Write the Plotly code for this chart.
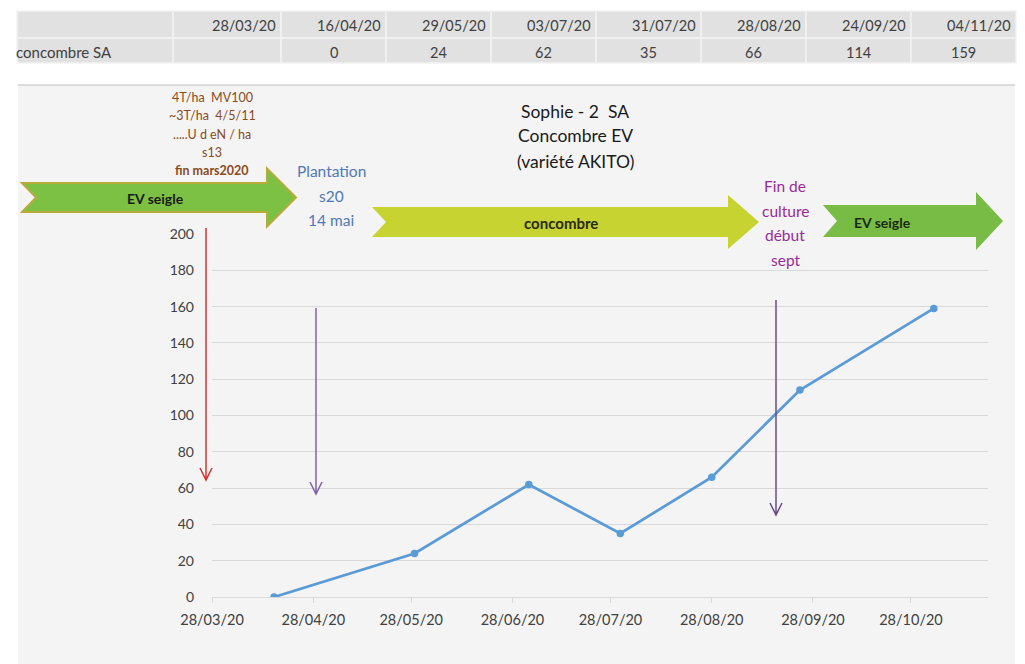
import plotly.graph_objects as go

# ---------------- data ----------------
table_dates = ["28/03/20", "16/04/20", "29/05/20", "03/07/20", "31/07/20", "28/08/20", "24/09/20", "04/11/20"]
table_values = [None, 0, 24, 62, 35, 66, 114, 159]
series_name = "concombre SA"
meas_dates = ["2020-04-16", "2020-05-29", "2020-07-03", "2020-07-31", "2020-08-28", "2020-09-24", "2020-11-04"]
meas_values = [0, 24, 62, 35, 66, 114, 159]
x_tick_vals = ["2020-03-28", "2020-04-28", "2020-05-28", "2020-06-28", "2020-07-28",
               "2020-08-28", "2020-09-28", "2020-10-28"]
x_tick_text = ["28/03/20", "28/04/20", "28/05/20", "28/06/20", "28/07/20",
               "28/08/20", "28/09/20", "28/10/20"]

title_lines = ["Sophie - 2  SA", "Concombre EV", "(variété AKITO)"]
note_left = ["4T/ha  MV100", "~3T/ha  4/5/11", ".....U d eN / ha", "s13", "fin mars2020"]
note_plant = ["Plantation", "s20", "14 mai"]
note_end = ["Fin de", "culture", "début", "sept"]

# ---------------- geometry helpers (page pixel coords) ----------------
OFF = 8  # body margin of the html page
PW, PH = 1025, 664
W, H = PW - OFF, PH - OFF
L, R, T, B = 212, 988, 234, 597
def px(x):
    return (x - L) / (R - L)
def py(y):
    return (B - y) / (B - T)

FONT = "Lato, 'Open Sans', sans-serif"

fig = go.Figure()
fig.add_trace(go.Scatter(
    x=meas_dates, y=meas_values, mode="lines+markers",
    line=dict(color="#5b9bd5", width=2.75),
    marker=dict(color="#5b9bd5", size=7.5),
    name=series_name, showlegend=False, hoverinfo="x+y",
))

shapes = []
annotations = []

def ann(x, y, text, size, color, xanchor="center"):
    annotations.append(dict(xref="paper", yref="paper", x=px(x), y=py(y), text=text,
                            showarrow=False, xanchor=xanchor, yanchor="middle",
                            font=dict(family=FONT, size=size, color=color)))

# chart area background
shapes.append(dict(type="rect", xref="paper", yref="paper", layer="below",
                   x0=px(18), x1=px(1015), y0=py(85), y1=py(680),
                   fillcolor="#f4f4f4", line=dict(width=0)))
shapes.append(dict(type="line", xref="paper", yref="paper", layer="below",
                   x0=px(18), x1=px(1015), y0=py(85), y1=py(85),
                   line=dict(color="#d2d2d2", width=1.5)))

# table
col_edges = [17, 173, 281, 386, 491, 596, 701, 806, 911, 1016]
row_edges = [11, 38, 63]
for r in range(2):
    for c in range(len(col_edges) - 1):
        shapes.append(dict(type="rect", xref="paper", yref="paper", layer="below",
                           x0=px(col_edges[c]), x1=px(col_edges[c + 1]),
                           y0=py(row_edges[r]), y1=py(row_edges[r + 1]),
                           fillcolor="#e1e1e1", line=dict(color="#f2f2f2", width=1.5)))

for i, d in enumerate(table_dates):
    right = col_edges[i + 2]
    ann(right - 3, 25, d, 14.5, "#404040", xanchor="right")
    v = table_values[i]
    if v is not None:
        ann((col_edges[i + 1] + right) / 2, 52, str(v), 14.5, "#404040")
ann(14, 52, series_name, 15, "#404040", xanchor="left")

# block arrows
def block_arrow(x0, x1, xh, yc, bh, hh, notch, fill, line=None):
    pts = [(x0, yc - bh), (xh, yc - bh), (xh, yc - hh), (x1, yc), (xh, yc + hh),
           (xh, yc + bh), (x0, yc + bh), (x0 + notch, yc)]
    path = "M " + " L ".join(f"{px(a):.5f},{py(b):.5f}" for a, b in pts) + " Z"
    shapes.append(dict(type="path", xref="paper", yref="paper", layer="below", path=path,
                       fillcolor=fill,
                       line=line if line else dict(width=0)))

block_arrow(22, 296, 267, 197.5, 14.5, 29, 14, "#7cc143", dict(color="#b8ab3c", width=2))
block_arrow(372, 759, 728, 222, 15, 27, 14, "#c6d331")
block_arrow(823, 1003, 976, 221, 16, 29, 14, "#78bb45")

ann(155, 198, "<b>EV seigle</b>", 14, "#1a1a1a")
ann(561, 223, "<b>concombre</b>", 15, "#2a2a10")
ann(882, 222, "<b>EV seigle</b>", 14, "#1a2a10")

# title
for i, t in enumerate(title_lines):
    ann(575, 111 + 25 * i, t, 17.5, "#1a1a1a")

# left brown note
for i, t in enumerate(note_left):
    ann(212, 97 + 18.5 * i, f"<b>{t}</b>" if i == 4 else t, 12.5, "#8a4a1c")

# plantation note
for i, t in enumerate(note_plant):
    ann(331, 171 + 24.5 * i, t, 15.5, "#4f78b8")

# end of culture note
for i, t in enumerate(note_end):
    ann(785, 186 + 24.5 * i, t, 15.5, "#9a2a9a")

# vertical arrows with open V heads
def vert_arrow(x, y0, y1, color, w=1.5):
    path = (f"M {px(x):.5f},{py(y0):.5f} L {px(x):.5f},{py(y1):.5f} "
            f"M {px(x - 6):.5f},{py(y1 - 12):.5f} L {px(x):.5f},{py(y1):.5f} "
            f"L {px(x + 6):.5f},{py(y1 - 12):.5f}")
    shapes.append(dict(type="path", xref="paper", yref="paper", layer="above", path=path,
                       line=dict(color=color, width=w)))

vert_arrow(206, 228, 480, "#d8322e")
vert_arrow(316, 308, 494, "#8063a8")
vert_arrow(776, 300, 515, "#6c4c88")

fig.update_layout(
    width=W, height=H,
    margin=dict(l=L - OFF, r=PW - R, t=T - OFF, b=PH - B),
    paper_bgcolor="#ffffff",
    plot_bgcolor="rgba(0,0,0,0)",
    shapes=shapes, annotations=annotations,
    showlegend=False,
    font=dict(family=FONT, color="#404040"),
)
fig.update_xaxes(
    type="date", range=["2020-03-28", "2020-11-20 14:00"],
    tickvals=x_tick_vals, ticktext=x_tick_text,
    showgrid=False, showline=True, linecolor="#d9d9d9", linewidth=1,
    ticks="outside", ticklen=5, tickcolor="#d9d9d9",
    tickfont=dict(family=FONT, size=14.5, color="#404040"),
    ticklabelstandoff=5,
    zeroline=False, fixedrange=True,
)
fig.update_yaxes(
    range=[0, 200], dtick=20, showgrid=True, gridcolor="#d9d9d9", gridwidth=1,
    zeroline=False, showline=False, ticks="",
    tickfont=dict(family=FONT, size=14, color="#404040"),
    ticklabelstandoff=17, fixedrange=True,
)

fig.write_html("out.html")
